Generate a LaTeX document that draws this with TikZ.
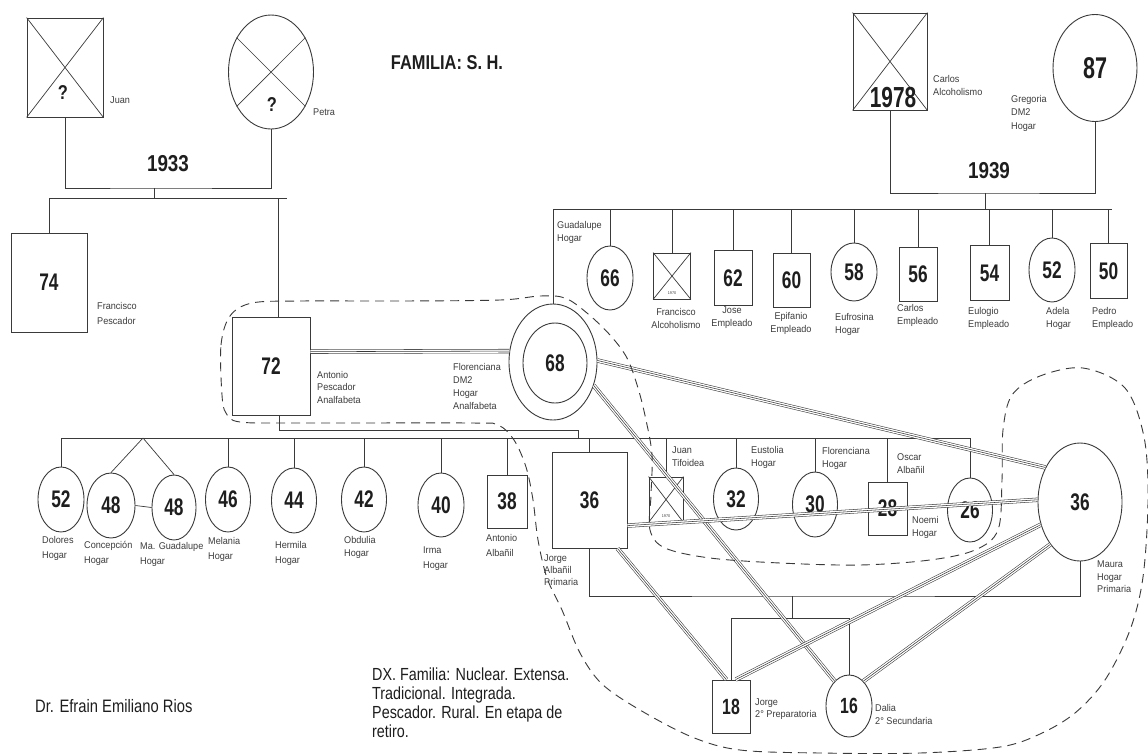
\documentclass[tikz,border=0pt]{standalone}
\usepackage{fontspec}
\setmainfont{Liberation Sans}
\newfontfamily\numf[FakeStretch=0.72]{Liberation Sans}
\newfontfamily\txtf[FakeStretch=0.82]{Liberation Sans}
\newfontfamily\labf[FakeStretch=0.93]{Liberation Sans}
\newcommand\lf[1]{\labf\fontsize{9.8}{#1}\selectfont}
\usetikzlibrary{shapes.geometric}
\definecolor{ink}{HTML}{3A3A3A}
\definecolor{txt}{HTML}{1E1E1E}
\definecolor{ltxt}{HTML}{3C3C3C}
\tikzset{
  shp/.style={draw=ink, line width=0.9pt, inner sep=0pt, text=txt, font=\numf\bfseries\fontsize{24}{24}\selectfont},
  male/.style={shp, rectangle},
  fem/.style={shp, ellipse},
  sz/.style 2 args={minimum width=#1, minimum height=#2},
  lbl/.style={font=\lf{13}, text=ltxt, align=left, inner sep=0pt, anchor=north west},
  lblc/.style={lbl, align=center, anchor=north},
  conn/.style={draw=ink, line width=0.7pt},
  dline/.style={draw=ink, line width=0.55pt, double=white, double distance=3.2pt},
  cline/.style={draw=ink, line width=0.55pt},
  hh/.style={draw=ink, line width=0.9pt, dash pattern=on 9pt off 6pt},
  big/.style={font=\txtf\bfseries\fontsize{23}{23}\selectfont, text=txt, inner sep=0pt},
  qm/.style={font=\txtf\bfseries\fontsize{20}{20}\selectfont, text=txt, inner sep=0pt},
}
\newcommand\triline[2]{\draw[dline] #1 -- #2; \draw[cline] #1 -- #2;}
\begin{document}
\begin{tikzpicture}[x=1pt,y=-1pt]
\useasboundingbox (0,0) rectangle (1148,755);
\fill[white] (0,0) rectangle (1148,755);

% ---------- title ----------
\node[font=\txtf\bfseries\fontsize{20}{20}\selectfont, text=txt] (title) at (447,63) {FAMILIA: S. H.};

% ---------- paternal grandparents ----------
\node[male, sz={76}{99}] (juan) at (65,67.5) {};
\draw[conn] (juan.north west) -- (juan.south east) (juan.north east) -- (juan.south west);
\node[qm] (q1) at (63,93) {?};
\node[lbl, anchor=west] (juanl) at (110,100) {Juan};
\node[fem, sz={85}{114}] (pedro) at (271,72) {};
\draw[conn] (pedro.135) -- (pedro.-45) (pedro.45) -- (pedro.-135);
\node[qm] (q2) at (272,105) {?};
\node[lbl, anchor=west] (pedrol) at (313,112) {Petra};
\coordinate (m1) at (154,188);
\draw[conn] (juan.south) |- (m1) -| (pedro.south);
\node[big] (y1933) at (168,164) {1933};
\coordinate (s1T) at (154,198);
\coordinate (s1L) at (49,198);
\coordinate (s1R) at (287,198);
\coordinate (s1A) at (278,198);
\draw[conn] (m1) -- (s1T);
\draw[conn] (s1L) -- (s1R);

\node[male, sz={76}{99}] (fran) at (49,282.5) {74};
\draw[conn] (s1L) -- (fran.north);
\node[lbl, font=\lf{15}] (franl) at (97,302) {Francisco\\Pescador};

\node[male, sz={78}{98}] (a72) at (271,366) {72};
\draw[conn] (s1A) -- (s1A |- a72.north);
\node[lbl, font=\lf{12.5}] (a72l) at (317,371) {Antonio\\Pescador\\Analfabeta};

% ---------- maternal grandparents ----------
\node[male, sz={74}{97}] (carlos) at (890,61.5) {};
\draw[conn] (carlos.north west) -- (carlos.south east) (carlos.north east) -- (carlos.south west);
\node[font=\numf\bfseries\fontsize{29}{29}\selectfont, text=txt, inner sep=0pt] (y1978) at (893,98) {1978};
\node[lbl] (carlosl) at (933,75) {Carlos\\Alcoholismo};
\node[fem, sz={84}{107}, font=\numf\bfseries\fontsize{30}{30}\selectfont] (greg) at (1095,68) {87};
\node[lbl, font=\lf{13.5}] (gregl) at (1011,95) {Gregoria\\DM2\\Hogar};
\coordinate (m2) at (985,193);
\draw[conn] (carlos.south) |- (m2) -| (greg.south);
\node[big] (y1939) at (989,171) {1939};
\coordinate (s2T) at (985,209);
\coordinate (s2L) at (553,209);
\coordinate (s2R) at (1112,209);
\draw[conn] (m2) -- (s2T);
\draw[conn] (s2L) -- (s2R);

% Florenciana 68
\node[fem, sz={88}{116}] (o68) at (553,362) {};
\node[fem, sz={64}{80}] (i68) at (555,363) {68};
\draw[conn] (s2L) -- (o68.north);
\node[lbl] (o68l) at (453,363) {Florenciana\\DM2\\Hogar\\Analfabeta};

% siblings of Florenciana
\node[fem, sz={46}{64}] (f66) at (610,278) {66};
\node[lbl] (f66l) at (557,221) {Guadalupe\\Hogar};
\node[male, sz={37}{46}] (fr70) at (672,276) {};
\draw[conn] (fr70.north west) -- (fr70.south east) (fr70.north east) -- (fr70.south west);
\node[font=\labf\fontsize{4}{4}\selectfont, text=ltxt, inner sep=0pt] (fr70y) at (672,293) {1970};
\node[lblc] (fr70l) at (676,308) {Francisco\\Alcoholismo};
\node[male, sz={38}{55}] (m62) at (733,278) {62};
\node[lblc] (m62l) at (732,307) {Jose\\Empleado};
\node[male, sz={37}{54}] (m60) at (791.5,280) {60};
\node[lblc] (m60l) at (791,312) {Epifanio\\Empleado};
\node[fem, sz={46}{58}] (f58) at (854,272) {58};
\node[lbl] (f58l) at (835,313) {Eufrosina\\Hogar};
\node[male, sz={38}{54}] (m56) at (918,274) {56};
\node[lbl] (m56l) at (897,304) {Carlos\\Empleado};
\node[male, sz={39}{55}] (m54) at (989.5,273) {54};
\node[lbl] (m54l) at (968,307) {Eulogio\\Empleado};
\node[fem, sz={46}{64}] (f52b) at (1052,270) {52};
\node[lbl] (f52bl) at (1046,307) {Adela\\Hogar};
\node[male, sz={37}{55}] (m50) at (1108.5,271) {50};
\node[lbl] (m50l) at (1092,307) {Pedro\\Empleado};
\foreach \n in {f66,fr70,m62,m60,f58,m56,m54,f52b,m50}
  \draw[conn] (\n.north |- s2L) -- (\n.north);

% ---------- children of Antonio & Florenciana ----------
\coordinate (a72d) at (279,430);
\coordinate (hc2) at (578,430);
\coordinate (s3L) at (61,438);
\coordinate (s3R) at (970,438);
\draw[conn] (a72.south -| a72d) -- (a72d) -- (hc2) -- (hc2 |- s3L);
\draw[conn] (s3L) -- (s3R);

\node[fem, sz={46}{65}] (dolores) at (61,499.5) {52};
\node[lbl, font=\lf{15}] (doloresl) at (42,536) {Dolores\\Hogar};
\node[fem, sz={48}{65}] (conc) at (111,505.5) {48};
\node[lbl, font=\lf{15}] (concl) at (84,541) {Concepción\\Hogar};
\node[fem, sz={44}{65}] (mag) at (174,507.5) {48};
\node[lbl, font=\lf{15}] (magl) at (140,542) {Ma. Guadalupe\\Hogar};
\coordinate (tw) at (143,438);
\draw[conn] (tw) -- (conc.north) (tw) -- (mag.north);
\draw[conn] (conc.east) -- (mag.west);
\node[fem, sz={45}{65}] (mel) at (228,499.5) {46};
\node[lbl, font=\lf{15}] (mell) at (208,537) {Melania\\Hogar};
\node[fem, sz={45}{65}] (her) at (294,500.5) {44};
\node[lbl, font=\lf{15}] (herl) at (275,541) {Hermila\\Hogar};
\node[fem, sz={45}{65}] (obd) at (364,499.5) {42};
\node[lbl, font=\lf{13}] (obdl) at (344,536) {Obdulia\\Hogar};
\node[fem, sz={46}{64}] (irma) at (441,505) {40};
\node[lbl, font=\lf{15}] (irmal) at (423,547) {Irma\\Hogar};
\node[male, sz={40}{53}] (ant38) at (507,501.5) {38};
\node[lbl, font=\lf{15}] (ant38l) at (486,534) {Antonio\\Albañil};
\node[male, sz={75}{96}] (j36) at (589.5,500) {36};
\node[lbl, font=\lf{12}] (j36l) at (544,555) {Jorge\\Albañil\\Primaria};
\foreach \n in {dolores,mel,her,obd,irma,ant38,j36}
  \draw[conn] (\n.north |- s3L) -- (\n.north);

% ---------- siblings of Maura ----------
\node[male, sz={34}{45}] (juan2) at (666,499.5) {};
\draw[conn] (juan2.north west) -- (juan2.south east) (juan2.north east) -- (juan2.south west);
\node[font=\labf\fontsize{4}{4}\selectfont, text=ltxt, inner sep=0pt] (juan2y) at (666,516) {1970};
\node[lbl] (juan2l) at (672,447) {Juan\\Tifoidea};
\node[fem, sz={45}{62}] (f32) at (736,499) {32};
\node[lbl] (f32l) at (751,446) {Eustolia\\Hogar};
\node[fem, sz={45}{65}] (f30) at (815,504.5) {30};
\node[lbl] (f30l) at (822,447) {Florenciana\\Hogar};
\node[male, sz={39}{53}] (m28) at (887.5,508.5) {28};
\node[lbl] (m28l) at (897,453) {Oscar\\Albañil};
\node[fem, sz={45}{64}] (f26) at (970,510) {26};
\node[lbl] (f26l) at (912,516) {Noemi\\Hogar};
\foreach \n in {juan2,f32,f30,m28,f26}
  \draw[conn] (\n.north |- s3L) -- (\n.north);

\node[fem, sz={84}{118}] (maura) at (1080,502) {36};
\node[lbl, font=\lf{12.5}] (maural) at (1097,561) {Maura\\Hogar\\Primaria};

% ---------- Jorge & Maura, children ----------
\coordinate (m3) at (792,596);
\coordinate (s4T) at (792,618);
\coordinate (s4L) at (731,618);
\coordinate (s4R) at (849,618);
\draw[conn] (j36.south) |- (m3) -| (maura.south);
\draw[conn] (m3) -- (s4T);
\draw[conn] (s4L) -- (s4R);
\node[male, sz={38}{53}, font=\numf\bfseries\fontsize{22}{22}\selectfont] (j18) at (731,706.5) {18};
\node[lbl, font=\lf{12}] (j18l) at (755,699) {Jorge\\2° Preparatoria};
\node[fem, sz={46}{62}, font=\numf\bfseries\fontsize{22}{22}\selectfont] (dalia) at (849,706) {16};
\node[lbl, font=\lf{13}] (dalial) at (875,704) {Dalia\\2° Secundaria};
\draw[conn] (s4L) -- (j18.north);
\draw[conn] (s4R) -- (dalia.north);

% ---------- relationship lines ----------
\triline{(a72.20)}{(o68.166)}
\triline{(o68.2)}{(maura.135)}
\triline{(o68.-30)}{(dalia.120)}
\triline{(j36.-60)}{(j18.100)}
\triline{(maura.210)}{(j18.80)}
\triline{(maura.235)}{(dalia.60)}
\triline{(j36.-34)}{(maura.177)}

% ---------- household boundary ----------
\draw[hh] plot[smooth cycle, tension=0.55] coordinates {
 (222,395) (221,345) (230,316) (252,303) (300,301) (400,301) (500,300) (540,296)
 (565,298) (587,313) (610,335) (627,358) (638,388) (646,420) (652,455) (651,495)
 (650,530) (665,548) (710,558) (780,563) (860,565) (930,560) (975,550) (998,530)
 (1002,480) (1003,430) (1012,395) (1040,376) (1083,368) (1125,388) (1144,437)
 (1148,500) (1143,577) (1130,630) (1105,680) (1075,713) (1040,734) (1000,747)
 (920,753) (820,753) (740,750) (692,737) (640,710) (602,684) (580,653) (562,610)
 (547,578) (538,540) (533,500) (526,467) (514,440) (498,425) (470,423) (300,423)
 (240,422) (226,413)};

% ---------- texts ----------
\node[anchor=north west, align=left, text=txt, inner sep=0pt,
      font=\txtf\fontsize{17.5}{19}\selectfont] (dx) at (372,668)
  {DX. Familia: Nuclear. Extensa.\\Tradicional. Integrada.\\Pescador. Rural. En etapa de\\retiro.};
\node[anchor=west, text=txt, inner sep=0pt, font=\txtf\fontsize{18}{18}\selectfont] (dr) at (35,706)
  {Dr. Efrain Emiliano Rios};
\end{tikzpicture}
\end{document}
